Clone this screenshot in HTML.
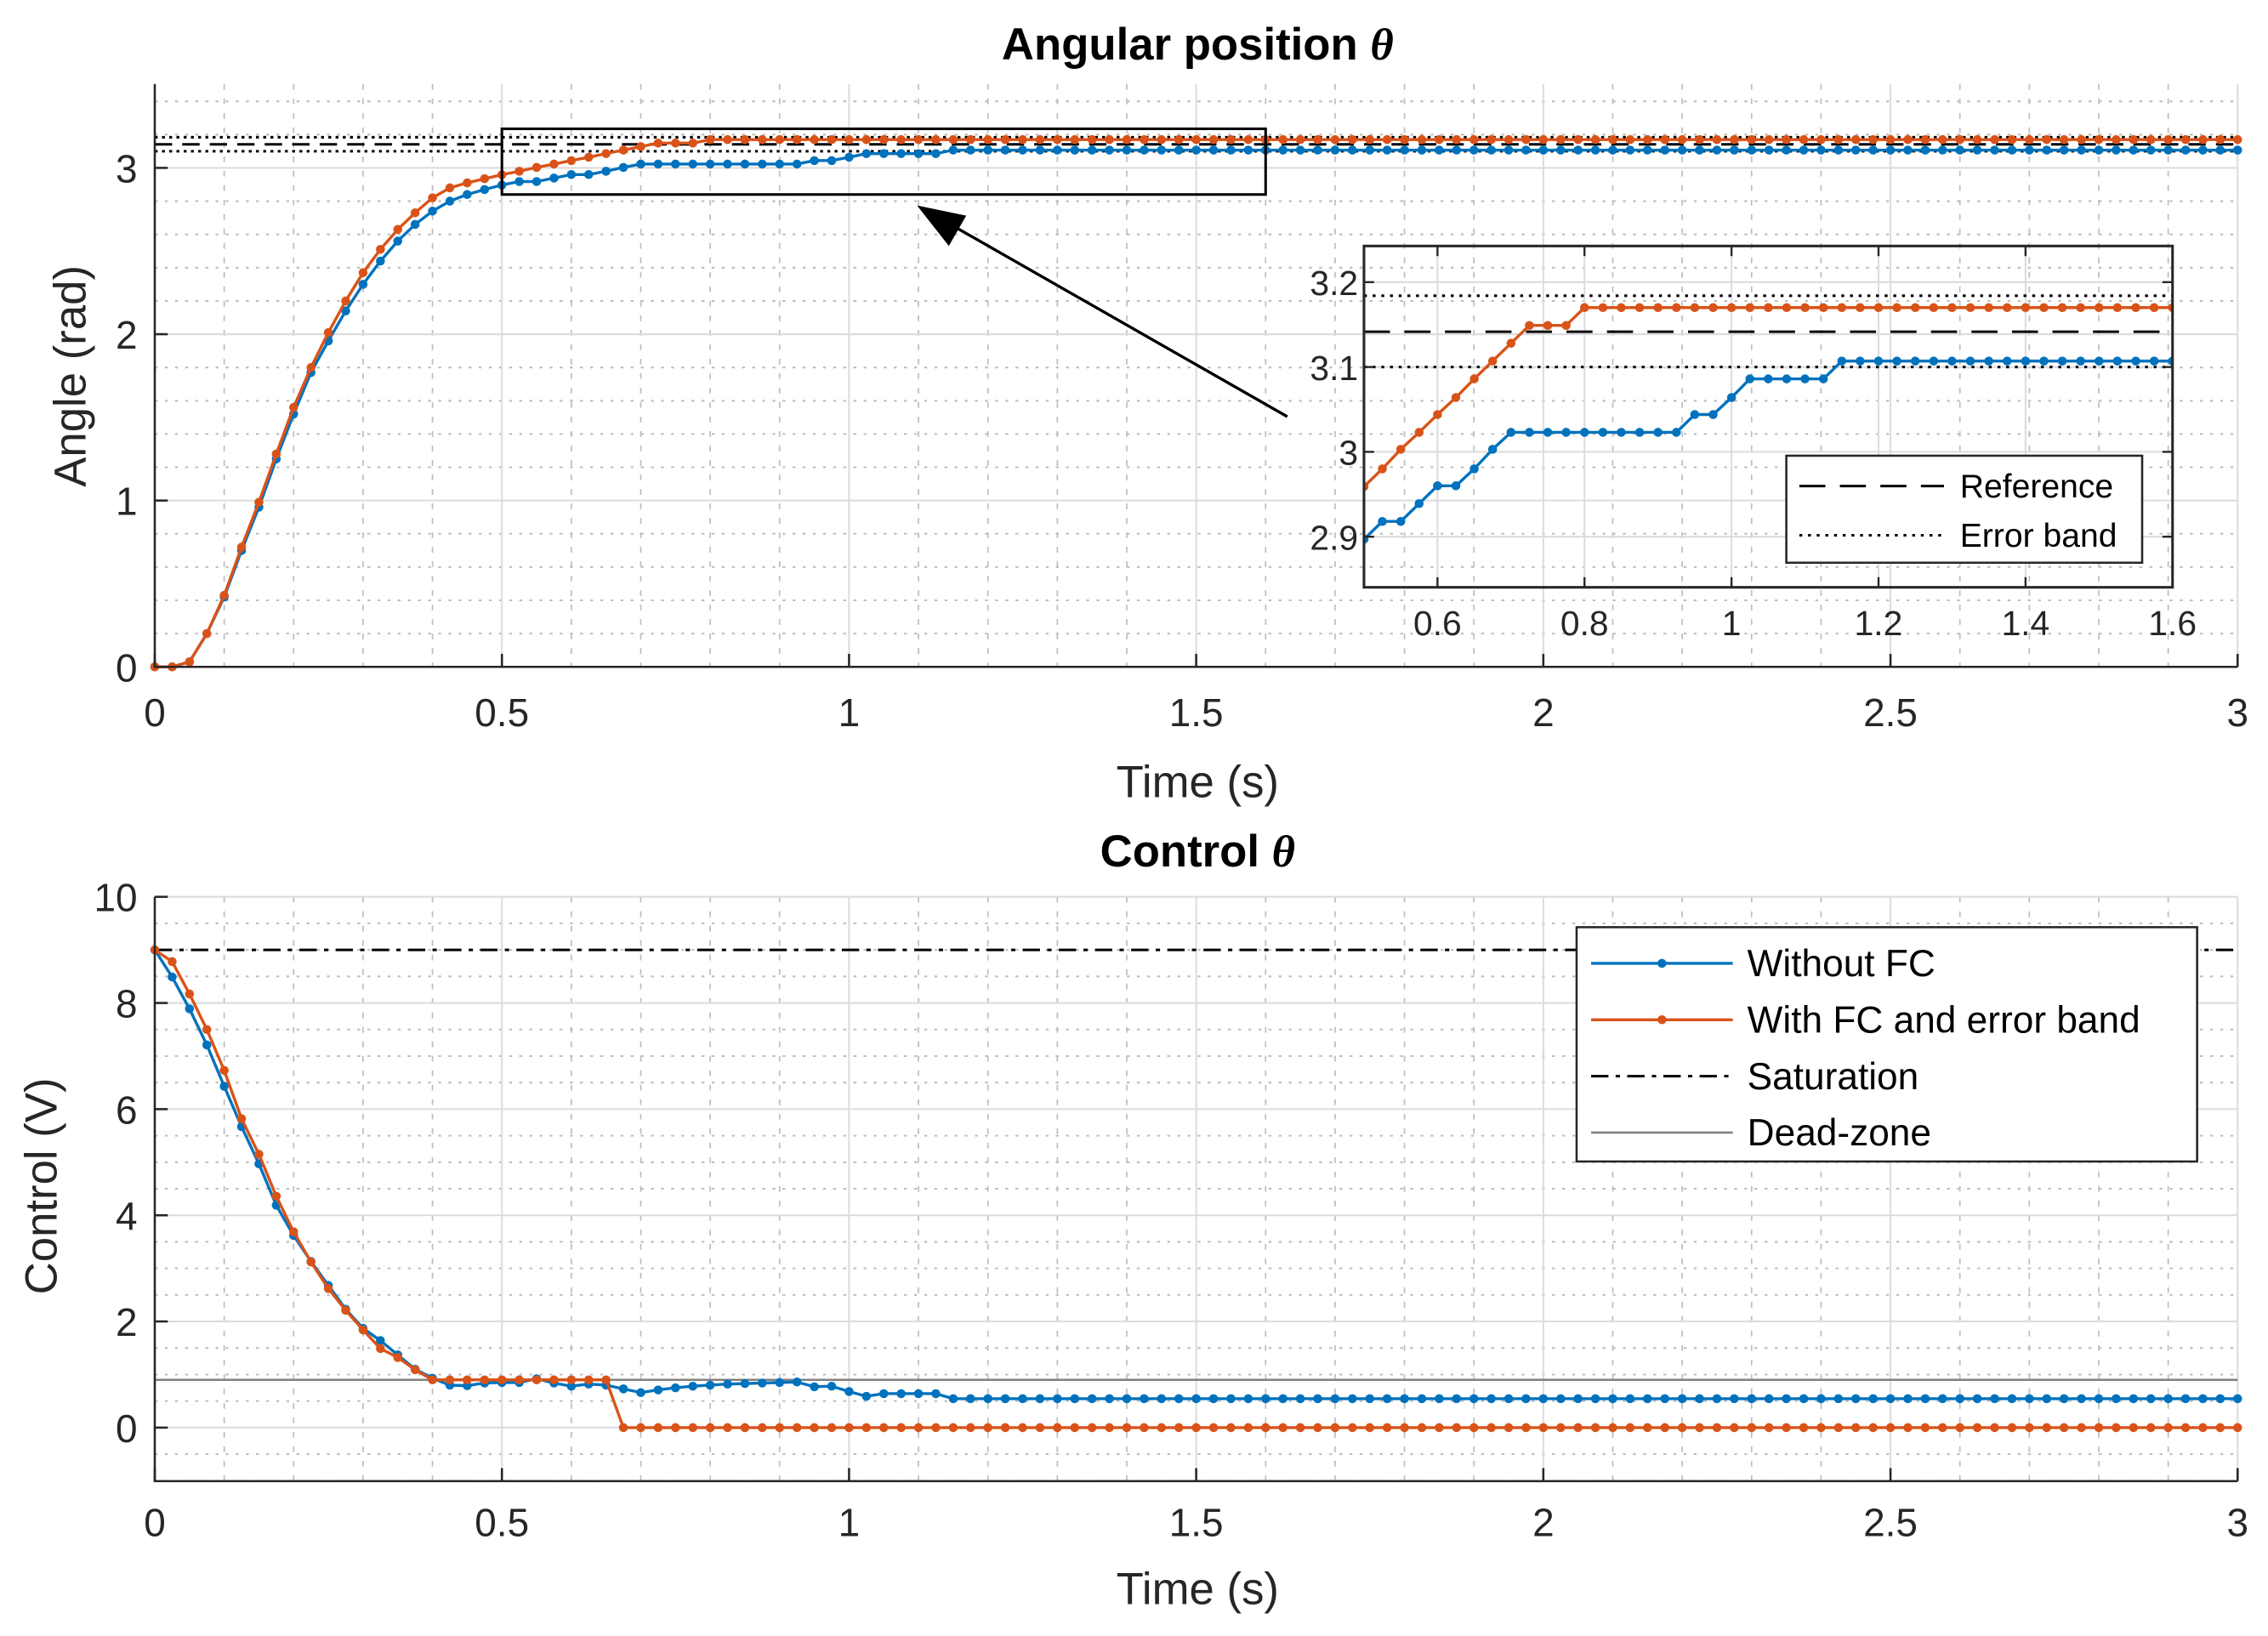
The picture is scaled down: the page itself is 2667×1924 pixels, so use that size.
<!DOCTYPE html>
<html><head><meta charset="utf-8"><style>
html,body{margin:0;padding:0;background:#fff;}
svg{display:block;font-family:"Liberation Sans",Arial,sans-serif;}
</style></head><body>
<svg id="fig" width="2667" height="1924" viewBox="0 0 1568 1131" xmlns="http://www.w3.org/2000/svg">
<rect width="1568" height="1131" fill="#fff"/>
<g id="topPlot"></g>
<g id="botPlot"></g>
</svg>
<script>
// ---------- data ----------
const timeStep = 0.025;
const nPoints = 121;
const topXTicks = [0,0.5,1,1.5,2,2.5,3];
const topXTickLabels = ["0","0.5","1","1.5","2","2.5","3"];
const topYTicks = [0,1,2,3];
const topYTickLabels = ["0","1","2","3"];
const botYTicks = [0,2,4,6,8,10];
const botYTickLabels = ["0","2","4","6","8","10"];
const insetXTicks = [0.6,0.8,1,1.2,1.4,1.6];
const insetXTickLabels = ["0.6","0.8","1","1.2","1.4","1.6"];
const insetYTicks = [2.9,3,3.1,3.2];
const insetYTickLabels = ["2.9","3","3.1","3.2"];
const referenceValue = 3.1416;
const errorBand = [3.1, 3.184];
const saturationValue = 9;
const deadZoneValue = 0.9;
function rep(v,n){return Array(n).fill(v);}
const thetaWithoutFC = [0,0,0.03,0.2,0.42,0.7,0.96,1.25,1.52,1.77,1.96,2.14,2.3,2.44,2.56,2.66,2.74,2.8,2.84,2.87,2.897,
 2.918,2.918,2.939,2.96,2.96,2.98,3.003,3.023,
 ...rep(3.023,9),3.044,3.044,3.064,3.086,...rep(3.086,4),...rep(3.107,75)];
const thetaWithFC = [0,0,0.03,0.2,0.43,0.72,0.99,1.28,1.56,1.8,2.01,2.2,2.37,2.51,2.63,2.73,2.82,2.88,2.91,2.935,2.959,
 2.98,3.003,3.023,3.044,3.064,3.086,3.107,3.128,3.149,3.149,3.149,...rep(3.17,89)];
const controlWithoutFC = [9,8.49,7.89,7.21,6.43,5.67,4.97,4.19,3.62,3.13,2.68,2.23,1.87,1.64,1.37,1.1,0.93,
 0.8,0.79,0.84,0.85,0.85,0.92,0.84,0.78,0.82,0.8,0.73,0.66,0.71,0.75,0.78,0.8,0.82,0.83,0.84,0.85,0.86,0.77,0.78,0.68,0.59,
 ...rep(0.64,4),...rep(0.545,75)];
const controlWithFC = [9,8.78,8.17,7.5,6.73,5.82,5.15,4.36,3.69,3.12,2.62,2.21,1.84,1.49,1.32,1.09,0.9,
 ...rep(0.9,10),...rep(0,94)];
const times = Array.from({length:nPoints},(_,i)=>i*timeStep);

// ---------- helpers ----------
const NS="http://www.w3.org/2000/svg";
function mk(parent,tag,attrs){const e=document.createElementNS(NS,tag);for(const k in attrs)e.setAttribute(k,attrs[k]);parent.appendChild(e);return e;}
const BLUE="#0072BD", RED="#D95319";

const X0=107, X1=1547;
const tx=t=>X0+(X1-X0)*t/3;
const ty=v=>461-115*v;
const by=v=>987-36.7*v;
const ix=t=>943+(1502-943)*(t-0.5)/1.1;
const iy=v=>195-(v-3.2)*586.7;

const gTop=document.getElementById('topPlot'), gBot=document.getElementById('botPlot');

function grid(g, yMin, yMax, ys, minorStep, majorStep, yTop, yBot){
  for(let k=1;k<=30;k++){ if(k%5===0) continue; const t=k/10;
    const l=mk(g,'line',{x1:tx(t),x2:tx(t),y1:yTop,y2:yBot,stroke:'#bdbdbd','stroke-width':1,'stroke-dasharray':'4 6'});
    
    
  }
  const n=Math.round((yMax-yMin)/minorStep);
  for(let k=0;k<=n;k++){ const v=yMin+k*minorStep; if(Math.abs(v/majorStep-Math.round(v/majorStep))<1e-6) continue;
    const l=mk(g,'line',{x1:X0,x2:X1,y1:ys(v),y2:ys(v),stroke:'#bdbdbd','stroke-width':1.2,'stroke-dasharray':'2 5'});
    
    
  }
  for(const t of topXTicks){ if(t===0) continue;
    const l=mk(g,'line',{x1:tx(t),x2:tx(t),y1:yTop,y2:yBot,stroke:'#dcdcdc','stroke-width':1.2});
    
    
  }
}
function series(g,xs,vals,color,name,xf,yf){
  const pts=vals.map((v,i)=>xf(xs[i])+','+yf(v)).join(' ');
  const pl=mk(g,'polyline',{points:pts,fill:'none',stroke:color,'stroke-width':2,'stroke-linejoin':'round'});
  
  
  vals.forEach((v,i)=>{
    const c=mk(g,'circle',{cx:xf(xs[i]),cy:yf(v),r:3.1,fill:color});
    
    
  });
}
function txt(g,x,y,s,size,anchor,extra){const t=mk(g,'text',Object.assign({x:x,y:y,'font-size':size,'text-anchor':anchor||'middle',fill:'#262626'},extra||{}));t.textContent=s;return t;}

// ================= TOP PLOT =================
grid(gTop,0,3.4,ty,0.2,1,58,461);
topYTicks.forEach(v=>{ if(v===0) return;
  const l=mk(gTop,'line',{x1:X0,x2:X1,y1:ty(v),y2:ty(v),stroke:'#dcdcdc','stroke-width':1.2});
  
  
});
let e;
e=mk(gTop,'line',{x1:X0,x2:X1,y1:ty(referenceValue),y2:ty(referenceValue),stroke:'#000','stroke-width':1.8,'stroke-dasharray':'12 7'});


errorBand.forEach(v=>{
  const l=mk(gTop,'line',{x1:X0,x2:X1,y1:ty(v),y2:ty(v),stroke:'#000','stroke-width':1.8,'stroke-dasharray':'2 3'});
  
  
});
series(gTop,times,thetaWithoutFC,BLUE,'theta-without-fc',tx,ty);
series(gTop,times,thetaWithFC,RED,'theta-with-fc',tx,ty);
e=mk(gTop,'rect',{x:tx(0.5),y:ty(3.235),width:tx(1.6)-tx(0.5),height:ty(2.84)-ty(3.235),fill:'none',stroke:'#000','stroke-width':1.8});


e=mk(gTop,'line',{x1:890,y1:288,x2:650,y2:151,stroke:'#000','stroke-width':2});


e=mk(gTop,'polygon',{points:'634,142 668,149 656,170',fill:'#000'});


e=mk(gTop,'path',{d:`M${X0},58 V461 H${X1}`,fill:'none',stroke:'#262626','stroke-width':1.5});


topXTicks.forEach((t,i)=>{
  mk(gTop,'line',{x1:tx(t),x2:tx(t),y1:461,y2:452,stroke:'#262626','stroke-width':1.5});
  const l=txt(gTop,tx(t),502,topXTickLabels[i],27);
  
  
});
topYTicks.forEach((v,i)=>{
  mk(gTop,'line',{x1:X0,x2:X0+9,y1:ty(v),y2:ty(v),stroke:'#262626','stroke-width':1.5});
  const l=txt(gTop,95,ty(v)+10,topYTickLabels[i],27,'end');
  
  
});
e=txt(gTop,828,551,'Time (s)',31);


e=txt(gTop,0,0,'Angle (rad)',31,'middle',{transform:'translate(59,260) rotate(-90)'});


e=mk(gTop,'text',{x:828,y:41,'font-size':31,'font-weight':'bold','text-anchor':'middle',fill:'#000'});
e.innerHTML='Angular position <tspan font-family="Liberation Serif" font-style="italic">θ</tspan>';



// ---------- inset ----------
const ins=mk(gTop,'g',{});


const clip=mk(ins,'clipPath',{id:'insclip'});
mk(clip,'rect',{x:943,y:170,width:559,height:236});
insetYTicks.forEach(v=>{
  const l=mk(ins,'line',{x1:943,x2:1502,y1:iy(v),y2:iy(v),stroke:'#dcdcdc','stroke-width':1.2});
  
  
});
insetXTicks.forEach(t=>{
  const l=mk(ins,'line',{x1:ix(t),x2:ix(t),y1:170,y2:406,stroke:'#dcdcdc','stroke-width':1.2});
  
  
});
const insData=mk(ins,'g',{'clip-path':'url(#insclip)'});
e=mk(insData,'line',{x1:943,x2:1502,y1:iy(referenceValue),y2:iy(referenceValue),stroke:'#000','stroke-width':1.8,'stroke-dasharray':'18 10'});


errorBand.forEach(v=>{
  const l=mk(insData,'line',{x1:943,x2:1502,y1:iy(v),y2:iy(v),stroke:'#000','stroke-width':1.8,'stroke-dasharray':'2 4'});
  
  
});
const i0=20,i1=64;
series(insData,times.slice(i0,i1+1),thetaWithoutFC.slice(i0,i1+1),BLUE,'inset-theta-without-fc',ix,iy);
series(insData,times.slice(i0,i1+1),thetaWithFC.slice(i0,i1+1),RED,'inset-theta-with-fc',ix,iy);
e=mk(ins,'rect',{x:943,y:170,width:559,height:236,fill:'none',stroke:'#262626','stroke-width':1.8});


insetXTicks.forEach((t,i)=>{
  mk(ins,'line',{x1:ix(t),x2:ix(t),y1:406,y2:399,stroke:'#262626','stroke-width':1.4});
  mk(ins,'line',{x1:ix(t),x2:ix(t),y1:170,y2:177,stroke:'#262626','stroke-width':1.4});
  const l=txt(ins,ix(t),439,insetXTickLabels[i],24);
  
  
});
insetYTicks.forEach((v,i)=>{
  mk(ins,'line',{x1:943,x2:950,y1:iy(v),y2:iy(v),stroke:'#262626','stroke-width':1.4});
  mk(ins,'line',{x1:1502,x2:1495,y1:iy(v),y2:iy(v),stroke:'#262626','stroke-width':1.4});
  const l=txt(ins,939,iy(v)+9,insetYTickLabels[i],24,'end');
  
  
});
const il=mk(ins,'g',{});


mk(il,'rect',{x:1235,y:315,width:246,height:74,fill:'#fff',stroke:'#262626','stroke-width':1.5});
mk(il,'line',{x1:1244,x2:1344,y1:336,y2:336,stroke:'#000','stroke-width':1.8,'stroke-dasharray':'18 10'});
mk(il,'line',{x1:1244,x2:1344,y1:370,y2:370,stroke:'#000','stroke-width':1.8,'stroke-dasharray':'2 4'});
e=txt(il,1355,344,'Reference',23,'start',{fill:'#000'});


e=txt(il,1355,378,'Error band',23,'start',{fill:'#000'});



// ================= BOTTOM PLOT =================
grid(gBot,-1,10,by,0.5,2,620,1024);
botYTicks.forEach(v=>{
  const l=mk(gBot,'line',{x1:X0,x2:X1,y1:by(v),y2:by(v),stroke:'#dcdcdc','stroke-width':1.2});
  
  
});
e=mk(gBot,'line',{x1:X0,x2:X1,y1:by(saturationValue),y2:by(saturationValue),stroke:'#000','stroke-width':1.8,'stroke-dasharray':'12 5 3 5'});


e=mk(gBot,'line',{x1:X0,x2:X1,y1:by(deadZoneValue),y2:by(deadZoneValue),stroke:'#808080','stroke-width':1.5});


series(gBot,times,controlWithoutFC,BLUE,'control-without-fc',tx,by);
series(gBot,times,controlWithFC,RED,'control-with-fc',tx,by);
e=mk(gBot,'path',{d:`M${X0},620 V1024 H${X1}`,fill:'none',stroke:'#262626','stroke-width':1.5});


topXTicks.forEach((t,i)=>{
  mk(gBot,'line',{x1:tx(t),x2:tx(t),y1:1024,y2:1015,stroke:'#262626','stroke-width':1.5});
  const l=txt(gBot,tx(t),1062,topXTickLabels[i],27);
  
  
});
botYTicks.forEach((v,i)=>{
  mk(gBot,'line',{x1:X0,x2:X0+9,y1:by(v),y2:by(v),stroke:'#262626','stroke-width':1.5});
  const l=txt(gBot,95,by(v)+10,botYTickLabels[i],27,'end');
  
  
});
e=txt(gBot,828,1109,'Time (s)',31);


e=txt(gBot,0,0,'Control (V)',31,'middle',{transform:'translate(39,820) rotate(-90)'});


e=mk(gBot,'text',{x:828,y:599,'font-size':31,'font-weight':'bold','text-anchor':'middle',fill:'#000'});
e.innerHTML='Control <tspan font-family="Liberation Serif" font-style="italic">θ</tspan>';


const lg=mk(gBot,'g',{});


mk(lg,'rect',{x:1090,y:641,width:429,height:162,fill:'#fff',stroke:'#262626','stroke-width':1.5});
const legLabels=['Without FC','With FC and error band','Saturation','Dead-zone'];
const legYs=[666,705,744,783];
mk(lg,'line',{x1:1100,x2:1198,y1:666,y2:666,stroke:BLUE,'stroke-width':2});
mk(lg,'circle',{cx:1149,cy:666,r:3.1,fill:BLUE});
mk(lg,'line',{x1:1100,x2:1198,y1:705,y2:705,stroke:RED,'stroke-width':2});
mk(lg,'circle',{cx:1149,cy:705,r:3.1,fill:RED});
mk(lg,'line',{x1:1100,x2:1198,y1:744,y2:744,stroke:'#000','stroke-width':1.8,'stroke-dasharray':'12 5 3 5'});
mk(lg,'line',{x1:1100,x2:1198,y1:783,y2:783,stroke:'#808080','stroke-width':1.5});
legLabels.forEach((s,i)=>{
  const l=txt(lg,1208,legYs[i]+9,s,26,'start',{fill:'#000'});
  
  
});
</script>
</body></html>
